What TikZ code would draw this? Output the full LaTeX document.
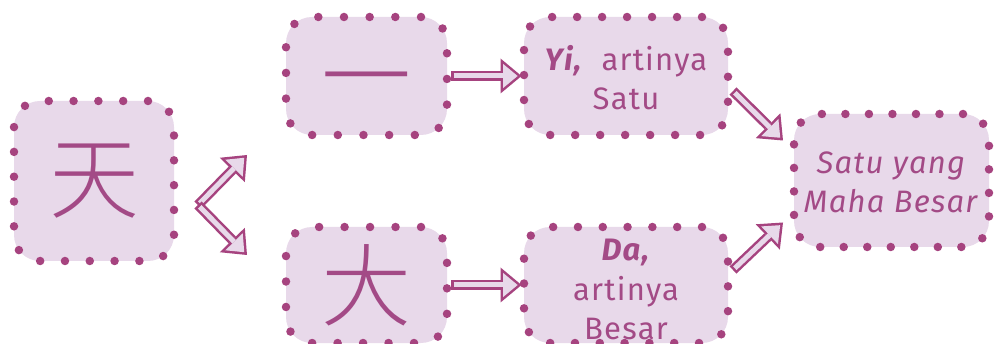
\documentclass[tikz,border=0pt]{standalone}
\usepackage{fontspec}
\setmainfont[LetterSpace=4]{Fira Sans}
\newfontfamily\cjk{Noto Sans CJK SC Light}
\usetikzlibrary{positioning,calc,arrows.meta}
\definecolor{boxfill}{HTML}{E8D9EA}
\definecolor{dotcol}{HTML}{A6437F}
\definecolor{txtcol}{HTML}{A34A86}
\tikzset{
  dotbox/.style={draw=dotcol, fill=boxfill, line width=8.5pt, line cap=round,
    rounded corners=26pt, inner sep=0pt, outer sep=0pt, text=txtcol,
    align=center, font=\fontsize{31}{39}\selectfont, text depth=0pt},
  dotgap/.style={dash pattern=on 0pt off #1},
  hanzi/.style={font=\cjk\fontsize{90}{90}\selectfont},
  arrowout/.style={line width=10pt, draw=dotcol,
    -{Triangle[length=21pt,width=35pt,line width=0pt]}},
  arrowin/.style={line width=5pt, draw=boxfill, shorten <=2.5pt, shorten >=3.9pt,
    -{Triangle[length=14.6pt,width=24.3pt,line width=0pt]}}
}
\newcommand{\hollow}[2]{\draw[arrowout] #1 -- #2; \draw[arrowin] #1 -- #2;}

\begin{document}
\begin{tikzpicture}[x=1pt,y=-1pt]
  \useasboundingbox (0,0) rectangle (995,344);
  % characters
  \node[dotbox, hanzi, dotgap=24.81pt, minimum width=160pt, minimum height=160pt, text depth=] (tian) at (94,181) {天};
  \node[dotbox, hanzi, dotgap=25.67pt, minimum width=161pt, minimum height=118pt, text height=68pt] (yi) at (366.5,76) {一};
  \node[dotbox, hanzi, dotgap=25.47pt, minimum width=161pt, minimum height=116pt, text depth=] (da) at (366.5,285) {大};
  % meanings
  \node[dotbox, dotgap=24.98pt, minimum width=204pt, minimum height=118pt, text height=68pt] (yimean) at (626,76) {\textbf{\textit{Yi,}}~~artinya\\Satu};
  \node[dotbox, dotgap=24.81pt, minimum width=204pt, minimum height=116pt, text height=108pt] (damean) at (626,285) {\textbf{\textit{Da,}}\\artinya\\Besar};
  \node[dotbox, dotgap=23.52pt, minimum width=195pt, minimum height=133pt, text height=65pt] (tuhan) at (891.5,180.5) {\textit{Satu yang}\\\textit{Maha Besar}};
  % arrows
  \coordinate (fork) at ($(tian.east)+(24,24)$);
  \coordinate (up) at (247,155);
  \coordinate (down) at (247,255);
  \hollow{(fork)}{(up)}
  \hollow{(fork)}{(down)}
  \hollow{($(yi.east)+(4,0)$)}{($(yimean.west)+(-2.5,0)$)}
  \hollow{($(da.east)+(4,0)$)}{($(damean.west)+(-2.5,0)$)}
  \hollow{($(yimean.east)+(5,15)$)}{($(tuhan.west)+(-11,-40)$)}
  \hollow{($(damean.east)+(5,-15)$)}{($(tuhan.west)+(-11,42)$)}
\end{tikzpicture}
\end{document}
